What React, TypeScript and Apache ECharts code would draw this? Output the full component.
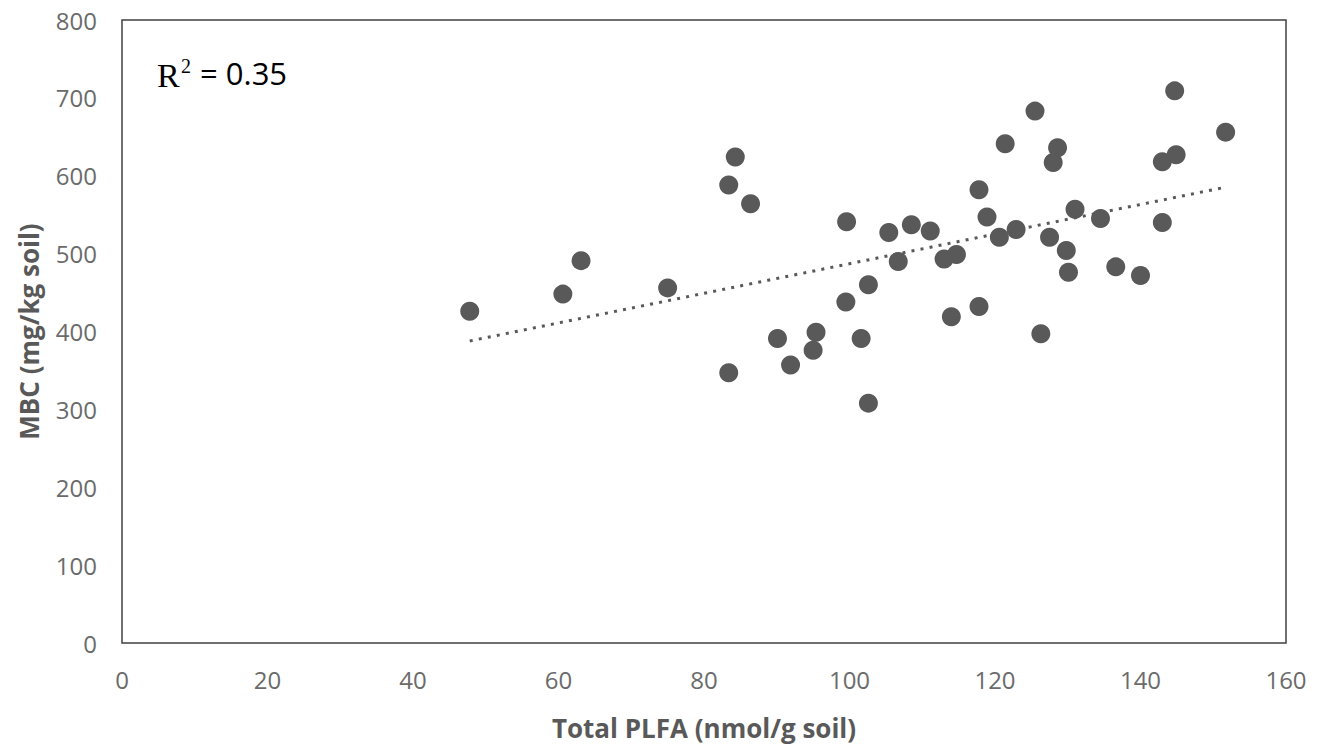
import React, { useEffect, useRef } from "react";
import * as echarts from "echarts";

// Total PLFA (nmol/g soil) per sample
const plfa = [
  47.8, 60.6, 63.1, 75.0, 84.3, 83.4, 86.4, 99.6, 99.5, 90.1, 95.4, 95.0,
  91.9, 83.4, 101.6, 102.6, 105.4, 106.7, 108.5, 111.1, 113.0, 114.7, 114.0,
  117.8, 126.3, 117.8, 118.9, 120.6, 122.9, 121.4, 125.5, 128.6, 128.0, 131.0,
  127.5, 129.8, 130.1, 134.5, 136.6, 140.0, 143.0, 143.0, 144.9, 144.7, 151.7,
  102.6,
];

// MBC (mg/kg soil) per sample, same order as plfa
const mbc = [
  426, 448, 491, 456, 624, 588, 564, 541, 438, 391, 399, 376, 357, 347, 391,
  460, 527, 490, 537, 529, 493, 499, 419, 432, 397, 582, 547, 521, 531, 641,
  683, 636, 617, 557, 521, 504, 476, 545, 483, 472, 540, 618, 627, 709, 656,
  308,
];

const xTicks = { min: 0, max: 160, interval: 20 };
const yTicks = { min: 0, max: 800, interval: 100 };
const rSquaredText = "= 0.35";

const GREY = "#595959";
const TICK_GREY = "#6b6b6b";
const SANS = "'Open Sans', 'DejaVu Sans', sans-serif";

// Ordinary least-squares fit of MBC on PLFA
function linearFit(xs: number[], ys: number[]) {
  const n = xs.length;
  const mx = xs.reduce((a, b) => a + b, 0) / n;
  const my = ys.reduce((a, b) => a + b, 0) / n;
  let sxy = 0;
  let sxx = 0;
  for (let i = 0; i < n; i++) {
    sxy += (xs[i] - mx) * (ys[i] - my);
    sxx += (xs[i] - mx) * (xs[i] - mx);
  }
  const slope = sxy / sxx;
  return { slope, intercept: my - slope * mx };
}

export default function App() {
  const ref = useRef<HTMLDivElement>(null);

  useEffect(() => {
    if (!ref.current) return;
    const chart = echarts.init(ref.current, null, { renderer: "svg" });

    const points = plfa.map((x, i) => [x, mbc[i]]);
    const { slope, intercept } = linearFit(plfa, mbc);
    const xMin = Math.min(...plfa);
    const xMax = Math.max(...plfa);
    const trend = [
      [xMin, intercept + slope * xMin],
      [xMax, intercept + slope * xMax],
    ];

    chart.setOption({
      animation: false,
      backgroundColor: "#ffffff",
      grid: {
        left: 122,
        right: 43,
        top: 20,
        bottom: 105,
        show: true,
        borderColor: "#404040",
        borderWidth: 1.5,
        backgroundColor: "transparent",
      },
      xAxis: {
        type: "value",
        min: xTicks.min,
        max: xTicks.max,
        interval: xTicks.interval,
        name: "Total PLFA (nmol/g soil)",
        nameLocation: "middle",
        nameGap: 72,
        nameTextStyle: {
          color: GREY,
          fontFamily: SANS,
          fontWeight: "bold",
          fontSize: 26,
        },
        axisLine: { show: false },
        axisTick: { show: false },
        splitLine: { show: false },
        axisLabel: {
          color: TICK_GREY,
          fontFamily: SANS,
          fontSize: 24,
          margin: 24,
        },
      },
      yAxis: {
        type: "value",
        min: yTicks.min,
        max: yTicks.max,
        interval: yTicks.interval,
        name: "MBC (mg/kg soil)",
        nameLocation: "middle",
        nameGap: 80,
        nameTextStyle: {
          color: GREY,
          fontFamily: SANS,
          fontWeight: "bold",
          fontSize: 26,
        },
        axisLine: { show: false },
        axisTick: { show: false },
        splitLine: { show: false },
        axisLabel: {
          color: TICK_GREY,
          fontFamily: SANS,
          fontSize: 24,
          margin: 25,
        },
      },
      series: [
        {
          type: "scatter",
          data: points,
          symbol: "circle",
          symbolSize: 19,
          itemStyle: { color: GREY, opacity: 1 },
          z: 2,
        },
        {
          type: "line",
          data: trend,
          symbol: "none",
          silent: true,
          lineStyle: {
            color: GREY,
            width: 3,
            type: [3, 6.2],
          },
          z: 3,
        },
      ],
      graphic: [
        {
          type: "text",
          left: 157,
          top: 58,
          style: {
            text: "R",
            fontFamily: "'Liberation Serif', 'DejaVu Serif', serif",
            fontSize: 34,
            fill: "#000000",
          },
        },
        {
          type: "text",
          left: 181,
          top: 56,
          style: {
            text: "2",
            fontFamily: "'Liberation Serif', 'DejaVu Serif', serif",
            fontSize: 20,
            fill: "#000000",
          },
        },
        {
          type: "text",
          left: 200,
          top: 57,
          style: {
            text: rSquaredText,
            fontFamily: SANS,
            fontSize: 31,
            fill: "#000000",
          },
        },
      ],
    });

    return () => chart.dispose();
  }, []);

  return (
    <div
      ref={ref}
      style={{ position: "fixed", left: 0, top: 0, width: 1329, height: 748 }}
    />
  );
}
